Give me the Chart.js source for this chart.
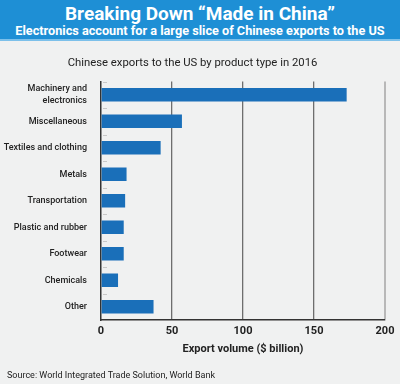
<!DOCTYPE html>
<html>
<head>
<meta charset="utf-8">
<script src="https://cdn.jsdelivr.net/npm/chart.js@4.4.1/dist/chart.umd.min.js"></script>
<style>
    body { margin: 0; width: 400px; height: 384px; background: #f0f1f1; font-family: Roboto, sans-serif; overflow: hidden; position: relative; }
    #head { height: 39px; background: #1e8fd5; border-bottom: 2px solid #7cc0ea; color: #fff; text-align: center; font-weight: bold; }
    #head .t1 { font-size: 19px; line-height: 19px; padding-top: 4px; }
    #head .t2 { font-size: 12.7px; line-height: 14px; padding-top: 1px; }
    #wrap { position: absolute; left: 0; top: 41px; width: 400px; height: 343px; }
    #source { position: absolute; left: 7px; top: 370px; font-size: 9px; color: #222; }
</style>
</head>
<body>
<div id="head">
    <div class="t1">Breaking Down “Made in China”</div>
    <div class="t2">Electronics account for a large slice of Chinese exports to the US</div>
</div>
<div id="wrap"><canvas id="myChart"></canvas></div>
<div id="source">Source: World Integrated Trade Solution, World Bank</div>
<script>
const categories = [
    ["Machinery and", "electronics"],
    "Miscellaneous",
    "Textiles and clothing",
    "Metals",
    "Transportation",
    "Plastic and rubber",
    "Footwear",
    "Chemicals",
    "Other",
];
const exportValues = [173, 57, 42, 18, 17, 16, 16, 12, 37];
const xTicks = [0, 50, 100, 150, 200];

// short marks between categories, just right of the axis line
const catMarks = {
    id: "catMarks",
    afterDatasetsDraw(chart) {
        const y = chart.scales.y;
        const x0 = chart.chartArea.left;
        const c = chart.ctx;
        c.save();
        c.strokeStyle = "#c8c8c8";
        c.lineWidth = 1;
        for (let i = 0; i < categories.length; i++) {
            const py = Math.round(y.getPixelForValue(i - 0.5)) + 0.5;
            c.beginPath();
            c.moveTo(x0 + 2, py);
            c.lineTo(x0 + 6, py);
            c.stroke();
        }
        c.restore();
    },
};

const ctx = document.getElementById("myChart");
new Chart(ctx, {
    type: "bar",
    data: {
        labels: categories,
        datasets: [
            {
                data: exportValues,
                backgroundColor: "#1a6fb9",
                categoryPercentage: 1,
                barPercentage: 0.51,
            },
        ],
    },
    plugins: [catMarks],
    options: {
        indexAxis: "y",
        responsive: true,
        maintainAspectRatio: false,
        animation: false,
        layout: { padding: { left: 0, right: 15, top: 0, bottom: 28 } },
        plugins: {
            legend: { display: false },
            tooltip: { enabled: false },
            title: {
                display: true,
                text: "Chinese exports to the US by product type in 2016",
                color: "#222",
                font: { family: "Roboto", size: 11.3, weight: "normal" },
                padding: { top: 15, bottom: 12 },
            },
        },
        scales: {
            x: {
                min: 0,
                max: 200,
                afterBuildTicks: (s) => { s.ticks = xTicks.map((v) => ({ value: v })); },
                afterFit: (s) => { s.height = 36; },
                grid: {
                    color: (c) => (c.tick && c.tick.value === 200 ? "#b8b8b8" : c.tick && c.tick.value === 0 ? "rgba(0,0,0,0)" : "#6e6e6e"),
                    lineWidth: (c) => (c.tick && c.tick.value === 200 ? 2 : 1.3),
                    drawTicks: false,
                },
                border: { color: "#333", width: 1.5 },
                ticks: { color: "#222", padding: 5, font: { family: "Roboto", size: 11, weight: "bold" } },
                title: {
                    display: true,
                    text: "Export volume ($ billion)",
                    color: "#222",
                    font: { family: "Roboto", size: 11, weight: "bold" },
                    padding: { top: 2, bottom: 0 },
                },
            },
            y: {
                afterFit: (s) => { s.width = 101; },
                grid: { display: false },
                border: { color: "#333", width: 1.5 },
                ticks: { color: "#222", padding: 6, font: { family: "Roboto", size: 9, weight: "500", lineHeight: 1.25 } },
            },
        },
    },
});
</script>
</body>
</html>
